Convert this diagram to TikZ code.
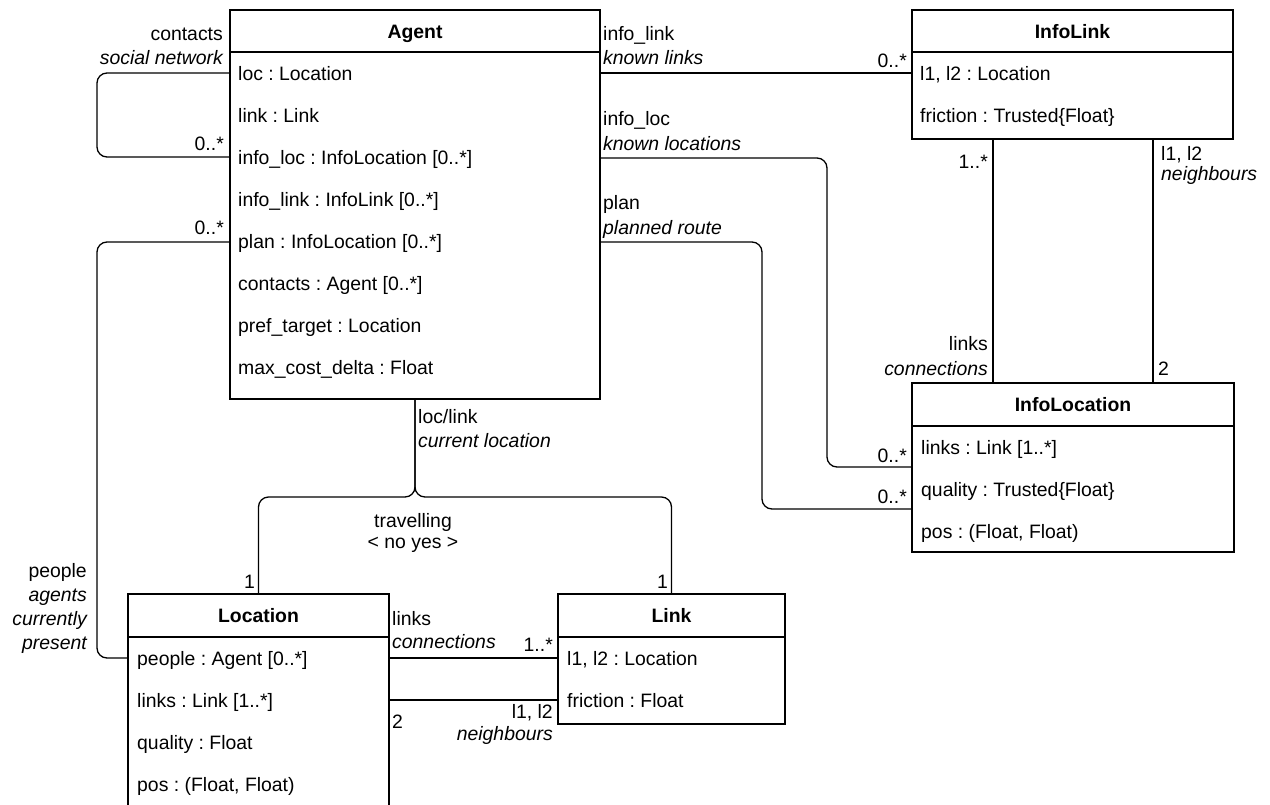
\documentclass[tikz,border=0pt]{standalone}
\usepackage{fontspec}
\setmainfont{Liberation Sans}
\frenchspacing
\begin{document}
\begin{tikzpicture}[x=1pt,y=-1pt,
  txt/.style={inner sep=0pt, font=\fontsize{19.4pt}{23pt}\selectfont\frenchspacing},
  itx/.style={txt, font=\fontsize{19.4pt}{23pt}\selectfont\frenchspacing\itshape},
  ttl/.style={txt, anchor=base, font=\fontsize{19.4pt}{23pt}\selectfont\bfseries},
  row/.style={txt, anchor=base west},
  lw/.style={txt, anchor=base west},
  le/.style={txt, anchor=base east},
  iw/.style={itx, anchor=base west},
  ie/.style={itx, anchor=base east},
  cls/.style={draw, line width=1.5pt, inner sep=0pt},
  conn/.style={line width=1.3pt, rounded corners=10pt}]
\clip (0,0) rectangle (1270,804);
\fill[white] (0,0) rectangle (1270,804);

% ---------- class boxes ----------
\node[cls, minimum width=370pt, minimum height=389pt] (agent) at (415,204.5) {};
\node[cls, minimum width=321pt, minimum height=129pt] (infolink) at (1072.5,74.5) {};
\node[cls, minimum width=322pt, minimum height=169pt] (infoloc) at (1073,467.5) {};
\node[cls, minimum width=261pt, minimum height=220pt] (location) at (258.5,704) {};
\node[cls, minimum width=227pt, minimum height=130pt] (link) at (671.5,659) {};

\draw[line width=1.5pt] (agent.west |- 0,52) -- (agent.east |- 0,52);
\draw[line width=1.5pt] (infolink.west |- 0,52) -- (infolink.east |- 0,52);
\draw[line width=1.5pt] (infoloc.west |- 0,426) -- (infoloc.east |- 0,426);
\draw[line width=1.5pt] (location.west |- 0,637) -- (location.east |- 0,637);
\draw[line width=1.5pt] (link.west |- 0,637) -- (link.east |- 0,637);

% ---------- titles ----------
\node[ttl] (agentT) at (415,38) {Agent};
\node[ttl] (infolinkT) at (1072.5,38) {InfoLink};
\node[ttl] (infolocT) at (1073,411) {InfoLocation};
\node[ttl] (locationT) at (258.5,622) {Location};
\node[ttl] (linkT) at (671.5,622) {Link};

% ---------- attributes ----------
\node[row] (a1) at (238,80) {loc : Location};
\node[row] (a2) at (238,122) {link : Link};
\node[row] (a3) at (238,164) {info\_loc : InfoLocation [0..*]};
\node[row] (a4) at (238,206) {info\_link : InfoLink [0..*]};
\node[row] (a5) at (238,248) {plan : InfoLocation [0..*]};
\node[row] (a6) at (238,290) {contacts : Agent [0..*]};
\node[row] (a7) at (238,332) {pref\_target : Location};
\node[row] (a8) at (238,374) {max\_cost\_delta : Float};

\node[row] (il1) at (920,80) {l1, l2 : Location};
\node[row] (il2) at (920,122) {friction : Trusted\{Float\}};

\node[row] (iL1) at (921,454) {links : Link [1..*]};
\node[row] (iL2) at (921,496) {quality : Trusted\{Float\}};
\node[row] (iL3) at (921,538) {pos : (Float, Float)};

\node[row] (l1) at (137,665) {people : Agent [0..*]};
\node[row] (l2) at (137,707) {links : Link [1..*]};
\node[row] (l3) at (137,749) {quality : Float};
\node[row] (l4) at (137,791) {pos : (Float, Float)};

\node[row] (k1) at (567,665) {l1, l2 : Location};
\node[row] (k2) at (567,707) {friction : Float};

% ---------- connectors ----------
% contacts self loop
\draw[conn] (agent.west |- 0,73) -- (97,73) -- (97,157) -- (agent.west |- 0,157);
% Agent plan side -> Location people
\draw[conn] (agent.west |- 0,242) -- (97,242) -- (97,658) -- (location.west |- 0,658);
% info_link
\draw[conn] (agent.east |- 0,73) -- (infolink.west |- 0,73);
% info_loc
\draw[conn] (agent.east |- 0,158) -- (827,158) -- (827,467) -- (infoloc.west |- 0,467);
% plan
\draw[conn] (agent.east |- 0,242) -- (762,242) -- (762,509) -- (infoloc.west |- 0,509);
% InfoLink - InfoLocation
\draw[line width=1.3pt] (infolink.south -| 993,0) -- (infoloc.north -| 993,0);
\draw[line width=1.3pt] (infolink.south -| 1153,0) -- (infoloc.north -| 1153,0);
% loc/link split
\coordinate (split) at (415,497);
\draw[conn] (agent.south) -- (split) -- (location.north |- split) -- (location.north);
\draw[conn] (agent.south) -- (split) -- (link.north |- split) -- (link.north);
% Location - Link
\draw[line width=1.3pt] (location.east |- 0,658) -- (link.west |- 0,658);
\draw[line width=1.3pt] (location.east |- 0,700) -- (link.west |- 0,700);

% ---------- connector labels ----------
\node[le] (c1) at (223,40) {contacts};
\node[ie] (c2) at (223,64) {social network};
\node[le] (c3) at (224,150) {0..*};
\node[le] (c4) at (224,234) {0..*};

\node[lw] (r1) at (603,40) {info\_link};
\node[iw] (r2) at (603,64) {known links};
\node[le] (r3) at (907,67) {0..*};
\node[lw] (r4) at (603,125) {info\_loc};
\node[iw] (r5) at (603,150) {known locations};
\node[lw] (r6) at (603,209) {plan};
\node[iw] (r7) at (603,234) {planned route};
\node[le] (r8) at (907,462) {0..*};
\node[le] (r9) at (907,503) {0..*};

\node[le] (n1) at (988,168) {1..*};
\node[lw] (n2) at (1161,160) {l1, l2};
\node[iw] (n3) at (1161,180) {neighbours};
\node[le] (n4) at (988,350) {links};
\node[ie] (n5) at (988,375) {connections};
\node[lw] (n6) at (1158,375) {2};

\node[lw] (s1) at (418,423) {loc/link};
\node[iw] (s2) at (418,447) {current location};
\node[txt, anchor=base] (s3) at (413,527) {travelling};
\node[txt, anchor=base] (s4) at (413,548) {< no yes >};
\node[le] (s5) at (255,588) {1};
\node[le] (s6) at (668,588) {1};

\node[le] (p1) at (87,577) {people};
\node[ie] (p2) at (87,601) {agents};
\node[ie] (p3) at (87,625) {currently};
\node[ie] (p4) at (87,649) {present};

\node[lw] (m1) at (392,625) {links};
\node[iw] (m2) at (392,648) {connections};
\node[le] (m3) at (553,651) {1..*};
\node[lw] (m4) at (392,728) {2};
\node[le] (m5) at (553,718) {l1, l2};
\node[ie] (m6) at (553,740) {neighbours};
\end{tikzpicture}
\end{document}
